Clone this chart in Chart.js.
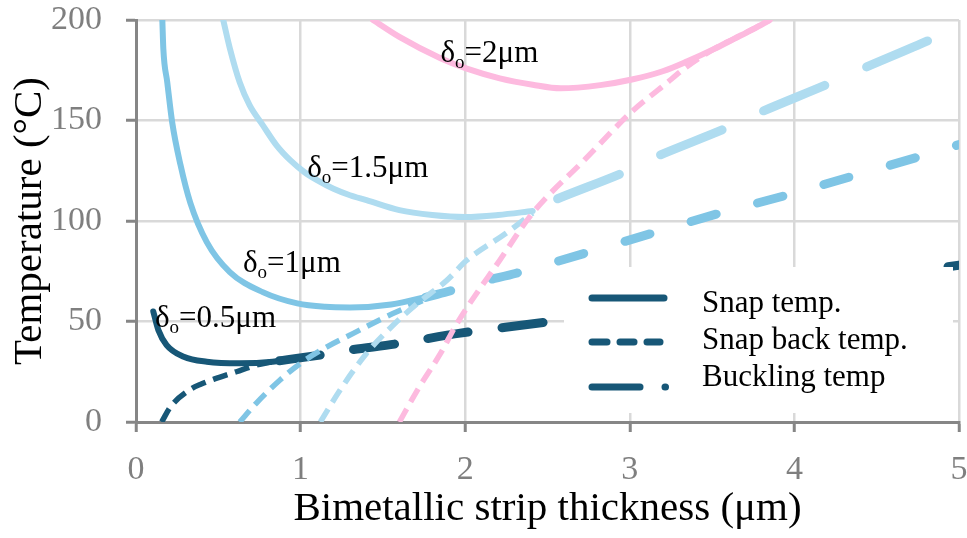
<!DOCTYPE html>
<html><head><meta charset="utf-8">
<script src="https://cdn.jsdelivr.net/npm/chart.js@4.4.0/dist/chart.umd.min.js"></script>
<style>html,body{margin:0;padding:0;background:#fff}#wrap{width:967px;height:538px}</style>
</head><body><div id="wrap"><canvas id="c" width="967" height="538"></canvas></div>
<script>
const FONT = '"Liberation Serif","Times New Roman",serif';

// ---- axis ticks ----
const xTicks = [0, 1, 2, 3, 4, 5];
const yTicks = [0, 50, 100, 150, 200];

// ---- δo = 0.5 µm ----
const snap05X = [0.105, 0.136, 0.186, 0.29, 0.43, 0.63, 0.83, 1.02];
const snap05Y = [55, 45.7, 38.3, 32.5, 30, 29.2, 30, 32.5];
const back05X = [0.156, 0.21, 0.33, 0.40, 0.47, 0.61, 0.73, 0.83];
const back05Y = [0, 7.6, 16.2, 19, 21.2, 25, 28.3, 30];
const buck05X = [0.83, 1.12, 1.3, 1.6, 1.97, 2.52, 5.0];
const buck05Y = [30, 33.3, 35.8, 39.1, 44.2, 50, 78];

// ---- δo = 1 µm ----
const snap1X = [0.16, 0.166, 0.19, 0.22, 0.27, 0.33, 0.43, 0.57, 0.77, 0.98, 1.15, 1.3, 1.55, 1.8];
const snap1Y = [200, 185.8, 169, 149, 128, 109, 89.5, 74.6, 64.6, 59, 57.3, 57, 58.5, 63];
const back1X = [0.63, 0.73, 0.875, 1.0, 1.16, 1.32, 1.52, 1.68, 1.8];
const back1Y = [0, 9.3, 20.9, 29.2, 37.4, 44.1, 52.4, 58.2, 62.5];
const buck1X = [1.76, 1.89, 2.11, 2.31, 3.14, 3.55, 3.96, 4.8, 5.0];
const buck1Y = [62, 64.8, 70, 74, 94, 104, 113, 133, 138];

// ---- δo = 1.5 µm ----
const snap15X = [0.53, 0.57, 0.63, 0.69, 0.77, 0.855, 0.94, 1.02, 1.1, 1.2, 1.3, 1.4, 1.6, 1.8, 2.0, 2.2, 2.41];
const snap15Y = [200, 186, 169, 157.6, 147.7, 137.5, 130, 124.5, 120.3, 116, 112.8, 110.4, 105.4, 103, 102, 103, 105];
const back15X = [1.12, 1.24, 1.4, 1.56, 1.71, 1.89, 2.01, 2.25, 2.41];
const back15Y = [0, 15.9, 34.1, 48, 59, 70.6, 80.5, 94, 104];
const buck15X = [2.41, 2.53, 2.96, 3.16, 3.58, 3.79, 4.2, 4.42, 4.82, 5.0];
const buck15Y = [105, 110, 124, 132, 146, 154, 168, 176, 190, 197];

// ---- δo = 2 µm ----
const snap2X = [1.44, 1.6, 1.85, 2.01, 2.21, 2.41, 2.58, 2.82, 3.02, 3.2, 3.35, 3.51, 3.63, 3.75, 3.85];
const snap2Y = [200, 191.6, 181, 175.8, 171, 167.8, 166, 167.6, 170.5, 174.5, 179.5, 185.5, 190.5, 195.5, 200];
const back2X = [1.6, 1.71, 1.85, 1.95, 2.21, 2.41, 2.72, 3.02, 3.2, 3.35, 3.51, 3.63, 3.75, 3.85];
const back2Y = [0, 15.9, 34.1, 49, 80.5, 104, 130, 155, 167, 177, 185.5, 190.5, 195.5, 200];

// ---- labels ----
const deltaValues = ['0.5', '1', '1.5', '2'];
const legendLabels = ['Snap temp.', 'Snap back temp.', 'Buckling temp'];
const xTitle = 'Bimetallic strip thickness (μm)';
const yTitle = 'Temperature (°C)';

// ---- styling (not data) ----
const C_DARK = '#175777', C_MED = '#7fc5e5', C_LIGHT = '#afdcf0', C_PINK = '#fdbadf';
const labelAnchors = [[0.115, 47.2], [0.65, 74.6], [1.04, 121.8], [1.85, 179]];

function pts(xs, ys) { return xs.map((x, i) => ({ x, y: ys[i] })); }

function snapDs(xs, ys, color, order) {
  return { data: pts(xs, ys), borderColor: color, borderWidth: 6, borderCapStyle: 'round',
    pointRadius: 0, showLine: true, cubicInterpolationMode: 'monotone', order, clip: 0 };
}
function backDs(xs, ys, color, order) {
  return { data: pts(xs, ys), borderColor: color, borderWidth: 5.5, borderDash: [15, 8], borderCapStyle: 'butt',
    pointRadius: 0, showLine: true, cubicInterpolationMode: 'monotone', order, clip: 0 };
}
function buckDs(xs, ys, color, order, dash, offset) {
  return { data: pts(xs, ys), borderColor: color, borderWidth: 9, borderDash: dash, borderDashOffset: offset,
    borderCapStyle: 'round', pointRadius: 0, showLine: true, tension: 0.3, order, clip: 0 };
}

const datasets = [
  snapDs(snap2X, snap2Y, C_PINK, 1),
  backDs(back2X, back2Y, C_PINK, 1),
  snapDs(snap15X, snap15Y, C_LIGHT, 2),
  backDs(back15X, back15Y, C_LIGHT, 2),
  buckDs(buck15X, buck15Y, C_LIGHT, 2, [66, 46], 84),
  snapDs(snap1X, snap1Y, C_MED, 3),
  backDs(back1X, back1Y, C_MED, 3),
  buckDs(buck1X, buck1Y, C_MED, 3, [26, 43], 0),
  snapDs(snap05X, snap05Y, C_DARK, 4),
  backDs(back05X, back05Y, C_DARK, 4),
  buckDs(buck05X, buck05Y, C_DARK, 4, [41, 34], 68),
];

function drawDelta(ctx, x, y, val) {
  ctx.textBaseline = 'alphabetic'; ctx.textAlign = 'left'; ctx.fillStyle = '#000';
  ctx.font = '31px ' + FONT;
  ctx.fillText('δ', x, y);
  let w = ctx.measureText('δ').width;
  ctx.font = '19px ' + FONT;
  ctx.fillText('o', x + w, y + 6);
  w += ctx.measureText('o').width;
  ctx.font = '31px ' + FONT;
  ctx.fillText('=' + val + 'μm', x + w, y);
}

function seg(ctx, x1, x2, y) { ctx.beginPath(); ctx.moveTo(x1, y); ctx.lineTo(x2, y); ctx.stroke(); }

const overlay = {
  id: 'overlay',
  afterDatasetsDraw(chart) {
    const { ctx, scales: { x, y } } = chart;
    ctx.save();
    deltaValues.forEach((v, i) => {
      drawDelta(ctx, x.getPixelForValue(labelAnchors[i][0]), y.getPixelForValue(labelAnchors[i][1]), v);
    });
    ctx.fillStyle = '#fff';
    ctx.fillRect(564, 267, 389, 146);
    ctx.strokeStyle = C_DARK; ctx.lineWidth = 7; ctx.lineCap = 'round'; ctx.setLineDash([]);
    seg(ctx, 592, 664, 298);
    seg(ctx, 592, 607, 342); seg(ctx, 620, 634, 342); seg(ctx, 647, 660, 342);
    seg(ctx, 592, 640, 387); seg(ctx, 665, 665.5, 387);
    ctx.fillStyle = '#000'; ctx.font = '31px ' + FONT; ctx.textAlign = 'left'; ctx.textBaseline = 'alphabetic';
    legendLabels.forEach((t, i) => ctx.fillText(t, 702, 312 + i * 37));
    ctx.restore();
  }
};

new Chart(document.getElementById('c'), {
  type: 'scatter',
  data: { datasets },
  options: {
    responsive: false, animation: false, devicePixelRatio: 1,
    layout: { padding: { left: 0, right: 8, top: 20, bottom: 0 } },
    plugins: { legend: { display: false }, tooltip: { enabled: false } },
    scales: {
      x: {
        type: 'linear', min: 0, max: 5,
        afterFit(s) { s.height = 116; s.paddingLeft = 0; s.paddingRight = 0; },
        afterBuildTicks(s) { s.ticks = xTicks.map(v => ({ value: v })); },
        ticks: { color: '#7f7f7f', font: { family: FONT, size: 34 }, padding: 18, maxRotation: 0 },
        grid: { color: '#d9d9d9', lineWidth: 2.5, tickColor: '#868686', tickLength: 10, tickWidth: 3 },
        border: { color: '#868686', width: 3 },
        title: { display: true, text: xTitle, color: '#000', font: { family: FONT, size: 41 }, padding: { top: 0, bottom: 4 } }
      },
      y: {
        type: 'linear', min: 0, max: 200,
        afterFit(s) { s.width = 136; s.paddingTop = 0; s.paddingBottom = 0; },
        afterBuildTicks(s) { s.ticks = yTicks.map(v => ({ value: v })); },
        ticks: { color: '#7f7f7f', font: { family: FONT, size: 34 }, padding: 24, crossAlign: 'near' },
        grid: { color: '#d9d9d9', lineWidth: 2.5, tickColor: '#868686', tickLength: 10, tickWidth: 3 },
        border: { color: '#868686', width: 3 },
        title: { display: true, text: yTitle, color: '#000', font: { family: FONT, size: 41 }, padding: { top: 6, bottom: 0 } }
      }
    }
  },
  plugins: [overlay]
});
</script></body></html>
